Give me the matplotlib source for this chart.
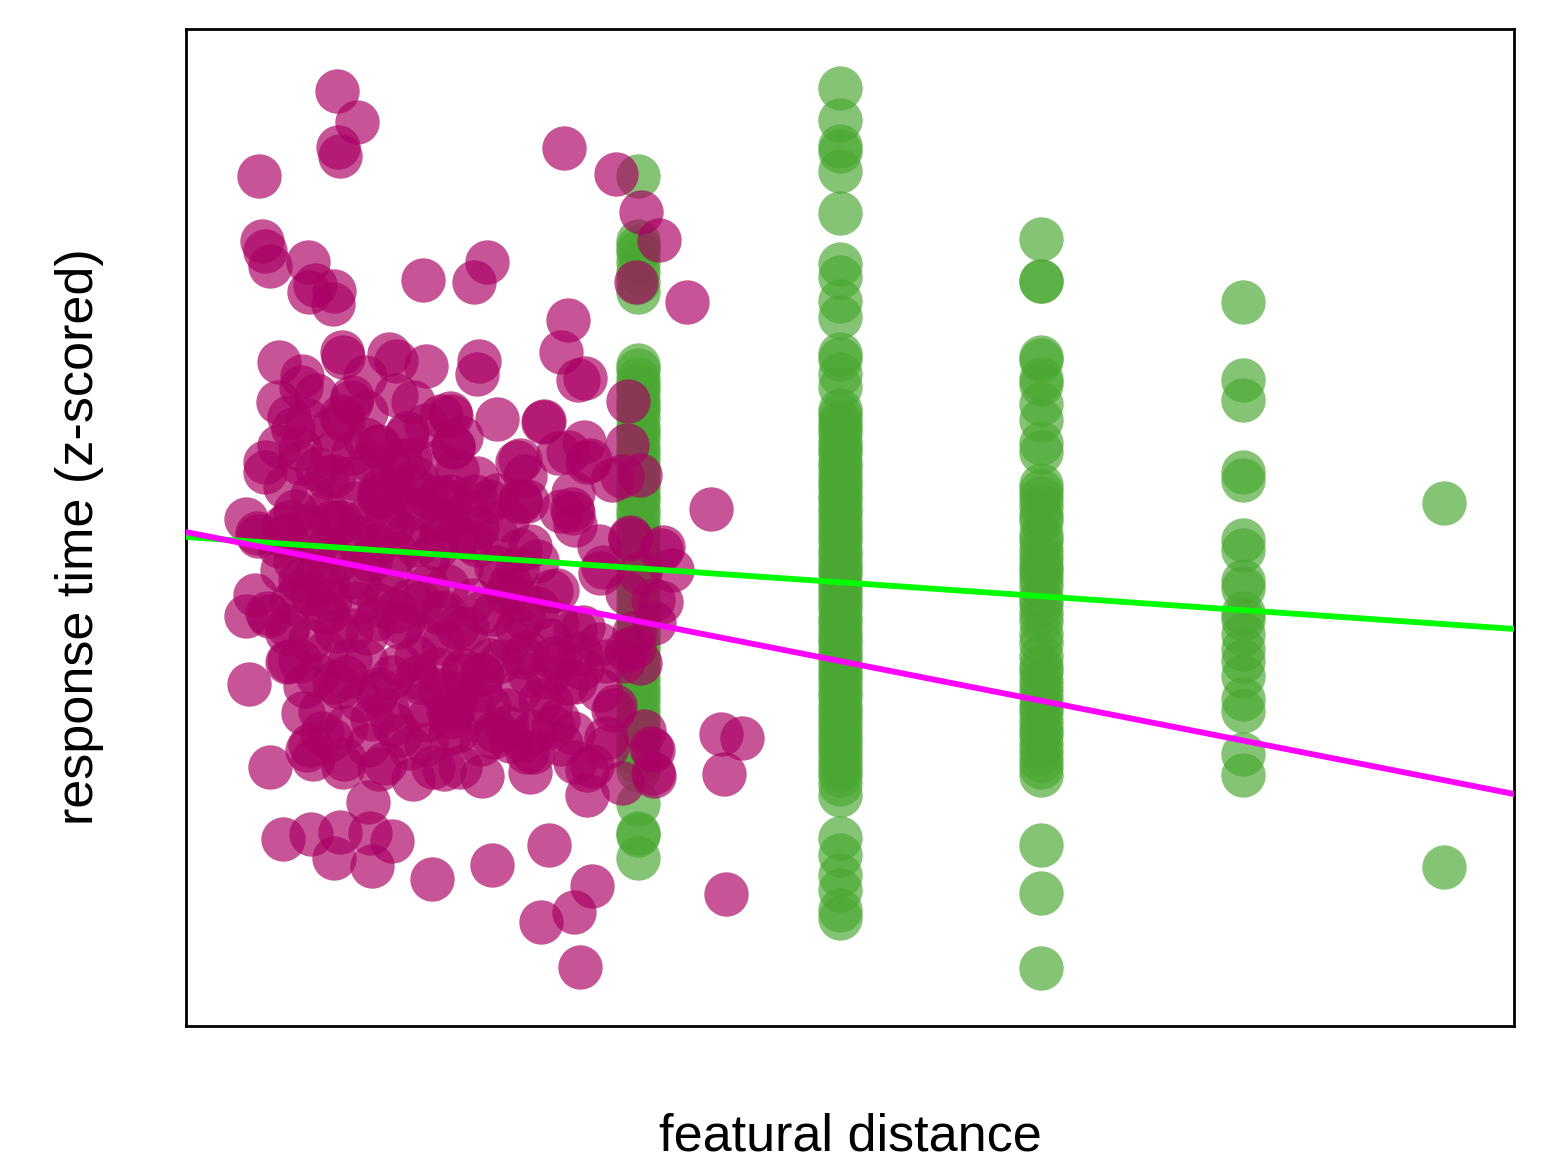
import numpy as np
import matplotlib.pyplot as plt

plt.rcParams['font.family'] = ['Liberation Sans', 'DejaVu Sans']

# green group: discrete featural distances, z-scored RTs per distance
green_y_d1 = [2.12, 1.73, 1.69, 1.66, 1.60, 1.54, 1.48, 1.42,
              0.98, 0.95, 0.90, 0.86, 0.83, 0.78, 0.74, 0.71, 0.66, 0.61, 0.58, 0.54,
              0.49, 0.45, 0.41, 0.36, 0.33, 0.28, 0.24, 0.19, 0.16, 0.11, 0.07, 0.02,
              -0.03, -0.07, -0.12, -0.16, -0.21, -0.24, -0.29, -0.34, -0.37, -0.42,
              -0.47, -0.51, -0.55, -0.60, -0.64, -0.69, -0.73, -0.78, -0.82, -0.86,
              -0.91, -0.96, -1.00, -1.04, -1.09, -1.14, -1.18, -1.22, -1.27, -1.31,
              -1.36, -1.41, -1.46, -1.66, -1.84, -1.85, -1.99]
green_y_d2 = [2.65, 2.46, 2.30, 2.27, 2.15, 1.90, 1.59, 1.51, 1.37, 1.27, 1.05, 1.02,
              0.93, 0.85, 0.71,
              0.68, 0.64, 0.60, 0.57, 0.52, 0.48, 0.45, 0.40, 0.37, 0.32, 0.28, 0.25,
              0.20, 0.17, 0.12, 0.09, 0.04, 0.00, -0.04, -0.08, -0.13, -0.16, -0.21,
              -0.25, -0.28, -0.33, -0.37, -0.41, -0.45, -0.49, -0.54, -0.57, -0.62,
              -0.66, -0.69, -0.74, -0.78, -0.82, -0.86, -0.90, -0.94, -0.99, -1.02,
              -1.07, -1.11, -1.15, -1.19, -1.24, -1.28, -1.32, -1.36, -1.41, -1.45,
              -1.49, -1.54, -1.61, -1.87, -1.97, -2.09, -2.18, -2.30, -2.35]
green_y_d3 = [1.74, 1.49, 1.49, 1.03, 1.01, 0.90, 0.87, 0.75, 0.65, 0.51, 0.46,
              0.26, 0.22, 0.18, 0.13, 0.08, 0.04, -0.04, -0.08, -0.13, -0.18, -0.23,
              -0.26, -0.30, -0.35, -0.42, -0.46, -0.51, -0.56, -0.64, -0.69, -0.77,
              -0.83, -0.87, -0.92, -0.97, -1.02, -1.07, -1.11, -1.16, -1.21, -1.25,
              -1.30, -1.35, -1.40, -1.44, -1.49, -1.91, -2.20, -2.65]
green_y_d4 = [1.36, 0.89, 0.77, 0.34, 0.29, -0.07, -0.13, -0.32, -0.36, -0.51, -0.55,
              -0.64, -0.73, -0.80, -0.89, -1.03, -1.10, -1.36, -1.49]
green_y_d5 = [0.15, -2.04]
green_levels = [1, 2, 3, 4, 5]

# purple group: continuous featural distance
purple_x = [-0.494, -0.395, -0.489, -0.479, -0.881, 0.633, 0.891, 1.015, 1.104, 0.990,
            1.243, -0.866, -0.851, -0.826, -0.638, -0.603, -0.633, -0.509, -0.514, -0.067,
            0.251, 0.186, 0.653, 0.618, 0.702, 0.737, -0.782, -0.667, -0.672, -0.469,
            -0.464, -0.236, -0.201, -0.052, 0.211, 0.201, -0.787, -0.355, -0.424, -0.117,
            0.072, 0.022, 0.300, 0.533, 0.950, 0.945, 0.921, 0.732, 0.747, 0.653,
            0.400, 0.439, 0.414, 0.672, 1.362, -0.712, -0.732, -0.782, -0.851, -0.851,
            -0.677, -0.524, -0.474, -0.355, -0.285, -0.151, -0.132, 0.082, -0.047, 0.072,
            0.191, -0.216, -0.285, -0.509, -0.593, -0.945, -0.732, -0.524, -0.355, -0.643,
            -0.464, -0.146, -0.295, -0.181, -0.677, -0.543, -0.414, -0.280, -0.117, 0.017,
            -0.494, -0.891, -0.762, -0.166, 0.017, -0.419, 0.067, 0.082, 0.529, 0.414,
            0.603, 0.762, 0.871, 1.010, 0.677, 0.677, 0.414, 0.960, 1.124, -0.886,
            -0.782, -0.901, -0.945, -0.831, -0.737, -0.732, -0.931, -0.663, -0.628, -0.524,
            -0.613, -0.459, -0.826, -0.340, -0.340, -0.762, -0.623, -0.479, -0.509, -0.320,
            -0.221, -0.022, 0.275, 0.558, 0.772, 0.682, 0.519, 0.712, 1.412, 1.516,
            1.427, 1.437, 0.747, 0.921, 1.079, 1.065, 1.030, 0.886, 0.841, 0.772,
            0.687, 0.464, 0.449, 0.226, 0.037, -0.117, -0.132, -0.285, 0.295, 0.365,
            0.484, 0.603, -0.047, -0.216, 0.057, 0.261, 0.568, 0.687, 0.926, 0.980,
            0.841, 0.722, 0.583, 0.464, 0.226, 0.127, -0.082, -0.285, -0.509, -0.593,
            -0.677, 1.114, 1.169, 1.114, 1.079, 0.980, 0.960, 0.826, 0.806, 0.687,
            0.618, 0.464, 0.449, 0.568, 0.687, 0.806, 0.365, 0.226, 0.037, -0.047,
            0.156, 0.365, -0.166, -0.285, -0.424, -0.558, -0.677, -0.767, -0.593, -0.424,
            -0.236, -0.047, 0.122, 0.295, 0.414, -0.151, 0.022, 0.156, 0.261, 0.057,
            -0.285, -0.474, -0.643, -0.390, -0.558, -0.216, -0.841, -0.742, -0.742, -0.568,
            -0.643, -0.464, -0.330, -0.256, -0.017, 0.067, 0.082, -0.246, -0.479, -0.295,
            -0.097, 0.032, 0.017, -0.181, -0.345, -0.543, -0.677, -0.543, -0.380, -0.246,
            -0.047, 0.945, 1.074, 1.010, 0.811, 0.945, 1.010, 0.876, 1.074, 1.074,
            0.846, 0.747, 0.677, 0.117, 0.280, 0.429, 0.578, 0.514, 0.350, 0.181,
            0.067, 0.648, 0.712, 0.563, 0.429, 0.266, 0.132, 0.429, 0.598, 0.727,
            0.598, 0.350, 0.181, 0.102, 0.315, -0.628, -0.429, -0.181, 0.017, 0.216,
            0.414, -0.380, -0.082, -0.529, -0.330, -0.132, 0.166, 0.414, 0.613, 0.811,
            -0.75, -0.70, -0.60, -0.50, -0.40, -0.30, -0.20, -0.10, 0.00, 0.10,
            0.20, 0.30, 0.40, 0.50, -0.72, -0.62, -0.50, -0.40, -0.30, -0.20,
            -0.08, 0.05, 0.15, 0.28, 0.40, 0.50, -0.65, -0.55, -0.45, -0.35,
            -0.22, -0.10, 0.00, 0.10, 0.22, 0.32, 0.45, 0.55, -0.58, -0.45,
            -0.32, -0.18, -0.05, 0.10, 0.22, 0.35, 0.48, 0.62, -0.75, -0.62,
            -0.52, -0.42, -0.32, -0.22, -0.10, 0.00, 0.10, 0.20, 0.30, 0.12,
            -0.05, -0.35, -0.60, -0.20, -0.70, -0.55, -0.40, -0.25, -0.10, 0.05,
            0.20, 0.35]
purple_y = [2.633, 2.446, 2.295, 2.241, 2.120, 2.289, 2.133, 1.904, 1.735, 1.482,
            1.361, 1.729, 1.669, 1.578, 1.602, 1.464, 1.422, 1.428, 1.349, 1.494,
            1.602, 1.482, 1.253, 1.060, 0.892, 0.904, 1.000, 0.916, 0.849, 1.060,
            1.030, 1.048, 1.006, 0.976, 1.006, 0.928, 0.759, 0.910, 0.759, 0.759,
            0.675, 0.675, 0.657, 0.645, 0.765, 0.500, 0.313, 0.518, 0.398, 0.458,
            0.398, 0.313, 0.157, 0.114, 0.114, 0.596, 0.669, 0.494, 0.398, 0.337,
            0.476, 0.596, 0.675, 0.536, 0.494, 0.554, 0.416, 0.494, 0.193, 0.193,
            0.193, 0.235, 0.193, 0.313, 0.355, 0.054, 0.036, 0.036, 0.054, 0.651,
            0.651, 0.572, 0.488, 0.410, 0.392, 0.307, 0.452, 0.229, 0.247, 0.187,
            0.030, -0.030, 0.006, 0.127, 0.048, 0.789, 0.693, 0.488, 0.639, 0.410,
            0.452, 0.410, 0.289, 0.319, 0.211, 0.090, 0.169, -0.054, -0.114, -0.048,
            -0.108, -0.404, -0.530, -0.530, -0.590, -0.801, -0.940, -1.114, -1.307, -1.271,
            -1.392, -1.392, -1.440, -1.307, -1.651, -1.873, -1.843, -1.831, -1.988, -2.036,
            -1.886, -2.114, -2.030, -1.910, -2.157, -2.313, -2.373, -2.645, -1.241, -1.265,
            -1.482, -2.205, -1.608, -1.536, -1.494, -1.325, -1.223, -1.072, -1.265, -1.434,
            -1.410, -1.470, -1.349, -1.494, -1.452, -1.512, -1.325, -1.452, -1.223, -1.283,
            -1.223, -1.157, -1.157, -1.181, -1.096, -1.072, -1.054, -0.928, -0.801, -0.717,
            -0.801, -0.843, -0.783, -0.886, -0.886, -0.886, -0.928, -0.970, -0.928, -0.886,
            -0.801, -0.133, -0.253, -0.446, -0.572, -0.633, -0.066, -0.235, -0.108, 0.018,
            0.102, -0.108, 0.163, -0.380, -0.614, -0.699, -0.337, -0.506, -0.506, -0.675,
            -0.699, -0.675, -0.572, -0.464, -0.614, -0.506, -0.380, -0.253, -0.277, -0.295,
            -0.253, -0.193, -0.235, -0.235, -0.133, -0.048, -0.006, 0.102, 0.163, 0.163,
            0.187, 0.036, 0.018, -0.090, -0.133, 0.018, -0.512, -0.633, -0.807, -1.235,
            -1.337, -1.440, -1.837, -1.416, -1.440, -1.235, -1.096, -1.096, -0.958, -0.994,
            -0.898, -0.693, -0.512, -0.596, -0.633, -0.512, -0.313, -0.313, -0.331, -0.392,
            -0.355, -0.392, -0.434, -0.271, -0.271, -0.735, -0.813, -1.096, -1.337, -1.476,
            -1.319, -1.458, -1.235, -1.440, -1.259, -1.277, -1.199, -1.036, -1.096, -1.096,
            -1.139, -0.934, -0.753, -0.675, -0.777, -0.795, -0.855, -0.536, -0.572, -0.596,
            -0.373, -0.392, -0.434, -0.596, -0.271, -0.675, -0.795, -0.825, -0.976, -0.976,
            -0.976, -1.036, -1.066, -0.434, -0.193, -0.434, -0.072, -0.434, -0.795, -0.976,
            -0.05, -0.20, -0.10, -0.20, -0.05, -0.10, -0.15, -0.10, -0.12, -0.05,
            -0.10, -0.05, -0.25, -0.20, -0.45, -0.40, -0.62, -0.45, -0.55, -0.50,
            -0.45, -0.35, -0.60, -0.52, -0.60, -0.48, -0.95, -0.75, -0.90, -0.80,
            -0.90, -0.78, -0.85, -1.00, -0.88, -0.80, -0.75, -0.90, -1.10, -1.20,
            -1.15, -1.25, -1.30, -1.22, -1.30, -1.20, -1.35, -1.30, 0.25, 0.20,
            0.45, 0.30, 0.40, 0.35, 0.30, 0.40, 0.35, 0.30, 0.20, 0.55,
            0.62, 0.70, 0.80, 0.80, 0.10, 0.10, 0.15, 0.05, 0.12, 0.05,
            0.00, 0.05]

# regression lines (intercept, slope)
green_fit = (-0.1585, -0.0841)
purple_fit = (-0.322, -0.2395)

xlim = (-1.243, 5.347)
ylim = (-3.0, 3.006)

fig = plt.figure(figsize=(15.51, 11.61), dpi=100)
ax = fig.add_axes([0.1199, 0.1163, 0.8563, 0.8587])

green_cols = [green_y_d1, green_y_d2, green_y_d3, green_y_d4, green_y_d5]
gx = np.concatenate([np.full(len(ys), lev) for lev, ys in zip(green_levels, green_cols)])
gy = np.concatenate([np.array(ys) for ys in green_cols])

ax.scatter(gx, gy, s=1020, color='#4AA832', alpha=0.68, linewidths=0, zorder=2)
ax.scatter(purple_x, purple_y, s=1020, color='#AA0064', alpha=0.67, linewidths=0, zorder=3)

xs = np.array(xlim)
ax.plot(xs, green_fit[0] + green_fit[1] * xs, color='#00FF00', lw=4.2, zorder=4)
ax.plot(xs, purple_fit[0] + purple_fit[1] * xs, color='#FF00FF', lw=4.2, zorder=5)

ax.set_xlim(*xlim)
ax.set_ylim(*ylim)
ax.set_xticks([])
ax.set_yticks([])
for sp in ax.spines.values():
    sp.set_linewidth(2)

fig.text(850 / 1551, 1 - 1137 / 1161, 'featural distance', fontsize=37.5,
         ha='center', va='center')
fig.text(80 / 1551, 1 - 537 / 1161, 'response time (z-scored)', fontsize=37.5,
         ha='center', va='center', rotation=90)

fig.savefig('out.png', dpi=100)
